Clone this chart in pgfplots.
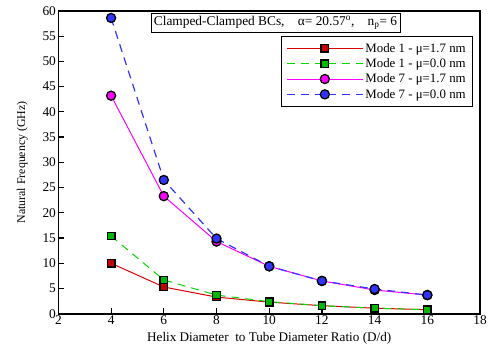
\documentclass[border=0pt]{standalone}
\usepackage{pgfplots}
\pgfplotsset{compat=1.18}
\usepackage{fontspec}
\setmainfont{Liberation Serif}
\definecolor{mred}{rgb}{0.85,0,0}
\definecolor{mgreen}{rgb}{0,0.85,0}
\definecolor{mmag}{rgb}{1,0,1}
\definecolor{mblue}{rgb}{0.2,0.2,1}
\begin{document}
\begin{tikzpicture}
\begin{axis}[
  scale only axis,
  width=426pt, height=306pt,
  xmin=2, xmax=18, ymin=0, ymax=60,
  xtick={2,4,...,18}, ytick={0,5,...,60},
  tick align=inside,
  xtick pos=left, ytick pos=left,
  axis line style={line width=1.8pt},
  major tick style={black, line width=1.2pt},
  major tick length=6pt,
  /pgf/number format/assume math mode=true,
  tick label style={font=\fontsize{13.5}{14}\selectfont},
  xticklabel style={yshift=2pt},
  yticklabel style={xshift=1pt},
  xlabel={Helix Diameter\ \ to Tube Diameter Ratio (D/d)},
  ylabel={Natural Frequency (GHz)},
  xlabel style={yshift=-1pt, font=\fontsize{13.3}{14}\selectfont},
  ylabel style={yshift=8pt, font=\fontsize{12}{14}\selectfont},
  legend style={at={(0.9835,0.918)}, anchor=north east, draw=black, line width=0.9pt,
    font=\fontsize{13}{14}\selectfont, row sep=1pt, inner xsep=5pt, inner ysep=5pt,
    /tikz/every even column/.append style={column sep=9pt}},
  legend cell align=left,
  legend image code/.code={
    \draw[mark repeat=2,mark phase=2] plot coordinates {(0cm,0cm) (1.35cm,0cm) (2.7cm,0cm)};
  },
]
\addplot[mred, line width=1pt, mark=square*, mark size=3.8pt, mark options={solid, fill=mred!90!black, draw=black, line width=1.3pt}]
  coordinates {(4,10.0) (6,5.3) (8,3.3) (10,2.3) (12,1.6) (14,1.1) (16,0.8)};
\addlegendentry{Mode 1 - μ=1.7 nm}
\addplot[mgreen, line width=1pt, dash pattern=on 8pt off 6pt, mark=square*, mark size=3.8pt, mark options={solid, fill=mgreen!85!black, draw=black, line width=1.3pt}]
  coordinates {(4,15.4) (6,6.7) (8,3.7) (10,2.4) (12,1.6) (14,1.1) (16,0.8)};
\addlegendentry{Mode 1 - μ=0.0 nm}
\addplot[mmag, line width=1pt, mark=*, mark size=4.6pt, mark options={solid, fill=mmag, draw=black, line width=1.3pt}]
  coordinates {(4,43.2) (6,23.3) (8,14.3) (10,9.4) (12,6.5) (14,4.7) (16,3.7)};
\addlegendentry{Mode 7 - μ=1.7 nm}
\addplot[mblue, line width=1.2pt, dash pattern=on 8pt off 6pt, mark=*, mark size=4.6pt, mark options={solid, fill=mblue, draw=black, line width=1.3pt}]
  coordinates {(4,58.6) (6,26.5) (8,14.9) (10,9.4) (12,6.5) (14,4.9) (16,3.7)};
\addlegendentry{Mode 7 - μ=0.0 nm}
\node[draw=black, fill=white, line width=0.9pt, font=\fontsize{13.5}{14}\selectfont, inner sep=3pt] at (axis cs:10.24,57.6)
  {Clamped-Clamped BCs,\quad α= 20.57\textsuperscript{o},\quad n\textsubscript{p}= 6};
\end{axis}
\path ([xshift=-59pt,yshift=11pt]current axis.north west);
\end{tikzpicture}
\end{document}
